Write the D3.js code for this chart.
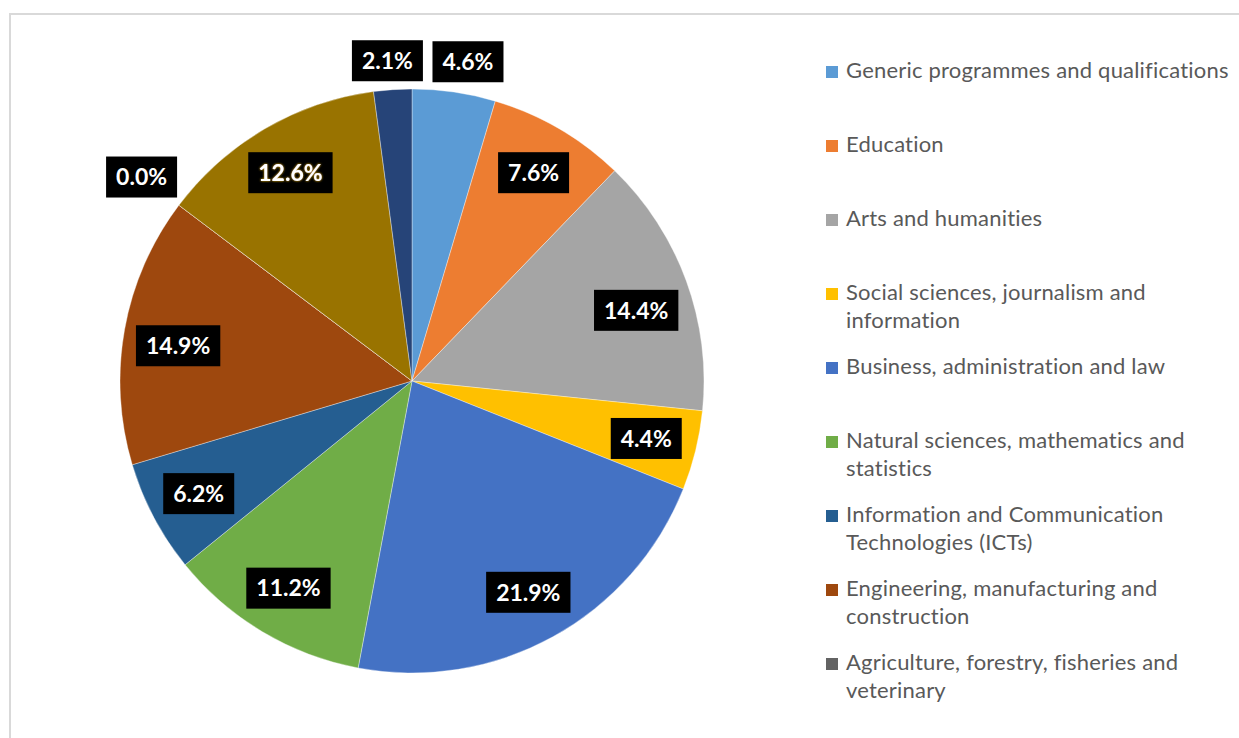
<!DOCTYPE html>
<html>
<head>
<meta charset="utf-8">
<script src="https://cdn.jsdelivr.net/npm/d3@7"></script>
<style>
  body { margin: 0; background: #fff; }
  svg { display: block; }
  .label-text { font-family: Lato, "Open Sans", sans-serif; font-weight: bold; font-size: 23px; fill: #fff; }
  .legend-text { font-family: Lato, "Open Sans", sans-serif; font-size: 22px; letter-spacing: 0.2px; fill: #595959; }
</style>
</head>
<body>
<svg id="chart" width="1239" height="738"></svg>
<script>
// fields of education (ISCED-F broad fields)
const categories = [
  ["Generic programmes and qualifications"],
  ["Education"],
  ["Arts and humanities"],
  ["Social sciences, journalism and", "information"],
  ["Business, administration and law"],
  ["Natural sciences, mathematics and", "statistics"],
  ["Information and Communication", "Technologies (ICTs)"],
  ["Engineering, manufacturing and", "construction"],
  ["Agriculture, forestry, fisheries and", "veterinary"],
  ["Health and welfare"],
  ["Services"]
];
const shares = [4.6, 7.6, 14.4, 4.4, 21.9, 11.2, 6.2, 14.9, 0.0, 12.6, 2.1];
const colors = ["#5B9BD5", "#ED7D31", "#A5A5A5", "#FFC000", "#4472C4", "#70AD47",
                "#255E91", "#9E480E", "#636363", "#997300", "#264478"];

const W = 1239, H = 738;
const cx = 412, cy = 381, R = 292;

const svg = d3.select("#chart");

// glow used by excel on one of the labels
const defs = svg.append("defs");
const glow = defs.append("filter").attr("id", "glow")
  .attr("x", "-20%").attr("y", "-20%").attr("width", "140%").attr("height", "140%");
glow.append("feDropShadow").attr("dx", 0).attr("dy", 0)
  .attr("stdDeviation", 1.2).attr("flood-color", "#FFC000").attr("flood-opacity", 1);

// chart area border (runs off the page on right / bottom)
svg.append("rect")
  .attr("x", 10).attr("y", 14)
  .attr("width", W + 50).attr("height", H + 50)
  .attr("fill", "none").attr("stroke", "#d9d9d9").attr("stroke-width", 2);

const data = shares.map((v, i) => ({ i: i, name: categories[i], value: v, color: colors[i] }));

const pie = d3.pie().sort(null).value(d => d.value);
const arcs = pie(data);
const arc = d3.arc().innerRadius(0).outerRadius(R);

const g = svg.append("g").attr("transform", `translate(${cx},${cy})`);

g.selectAll("path.slice")
  .data(arcs).enter()
  .append("path")
  .attr("class", "slice")
  .attr("d", arc)
  .attr("fill", d => d.data.color)
  .attr("stroke", "#fff")
  .attr("stroke-opacity", 0.6)
  .attr("stroke-width", 0.6);

// label placement: [fraction along the slice, radius factor]
// excel "best fit" pushes a few labels outside / nudges others
const placeDefault = [0.5, 0.826];
const place = {
  0: [0.6, 1.11],
  2: [0.55, 0.805],
  7: [0.47, 0.81],
  8: [0, 1.16],
  10: [0.42, 1.10]
};
const labelPos = d => {
  const p = place[d.data.i] || placeDefault;
  const a = d.startAngle + (d.endAngle - d.startAngle) * p[0];
  const r = p[1] * R;
  return [Math.sin(a) * r, -Math.cos(a) * r];
};

const lab = g.selectAll("g.lab")
  .data(arcs).enter()
  .append("g")
  .attr("class", "lab")
  .attr("transform", d => `translate(${labelPos(d)})`);

lab.append("rect").attr("fill", "#000");
lab.append("text")
  .attr("class", "label-text")
  .attr("text-anchor", "middle")
  .attr("dy", "0.36em")
  .attr("filter", d => d.data.i === 9 ? "url(#glow)" : null)
  .text(d => d.data.value.toFixed(1) + "%");

lab.each(function () {
  const t = d3.select(this).select("text").node();
  const w = t.getComputedTextLength() + 20, h = 41;
  d3.select(this).select("rect")
    .attr("x", -w / 2).attr("y", -h / 2)
    .attr("width", w).attr("height", h);
});

// legend: only the first nine entries fit in the visible area
const shown = data.slice(0, 9);
const ly = d3.scaleLinear().domain([0, 1]).range([78, 152]);
const legend = svg.append("g");
const item = legend.selectAll("g.item")
  .data(shown).enter()
  .append("g")
  .attr("class", "item")
  .attr("transform", (d, i) => `translate(826,${ly(i)})`);

item.append("rect")
  .attr("x", 0).attr("y", -12)
  .attr("width", 12).attr("height", 12)
  .attr("fill", d => d.color);

item.append("text")
  .attr("class", "legend-text")
  .attr("x", 20)
  .selectAll("tspan")
  .data(d => d.name).enter()
  .append("tspan")
  .attr("x", 20)
  .attr("y", (d, j) => j * 28)
  .text(d => d);
</script>
</body>
</html>
